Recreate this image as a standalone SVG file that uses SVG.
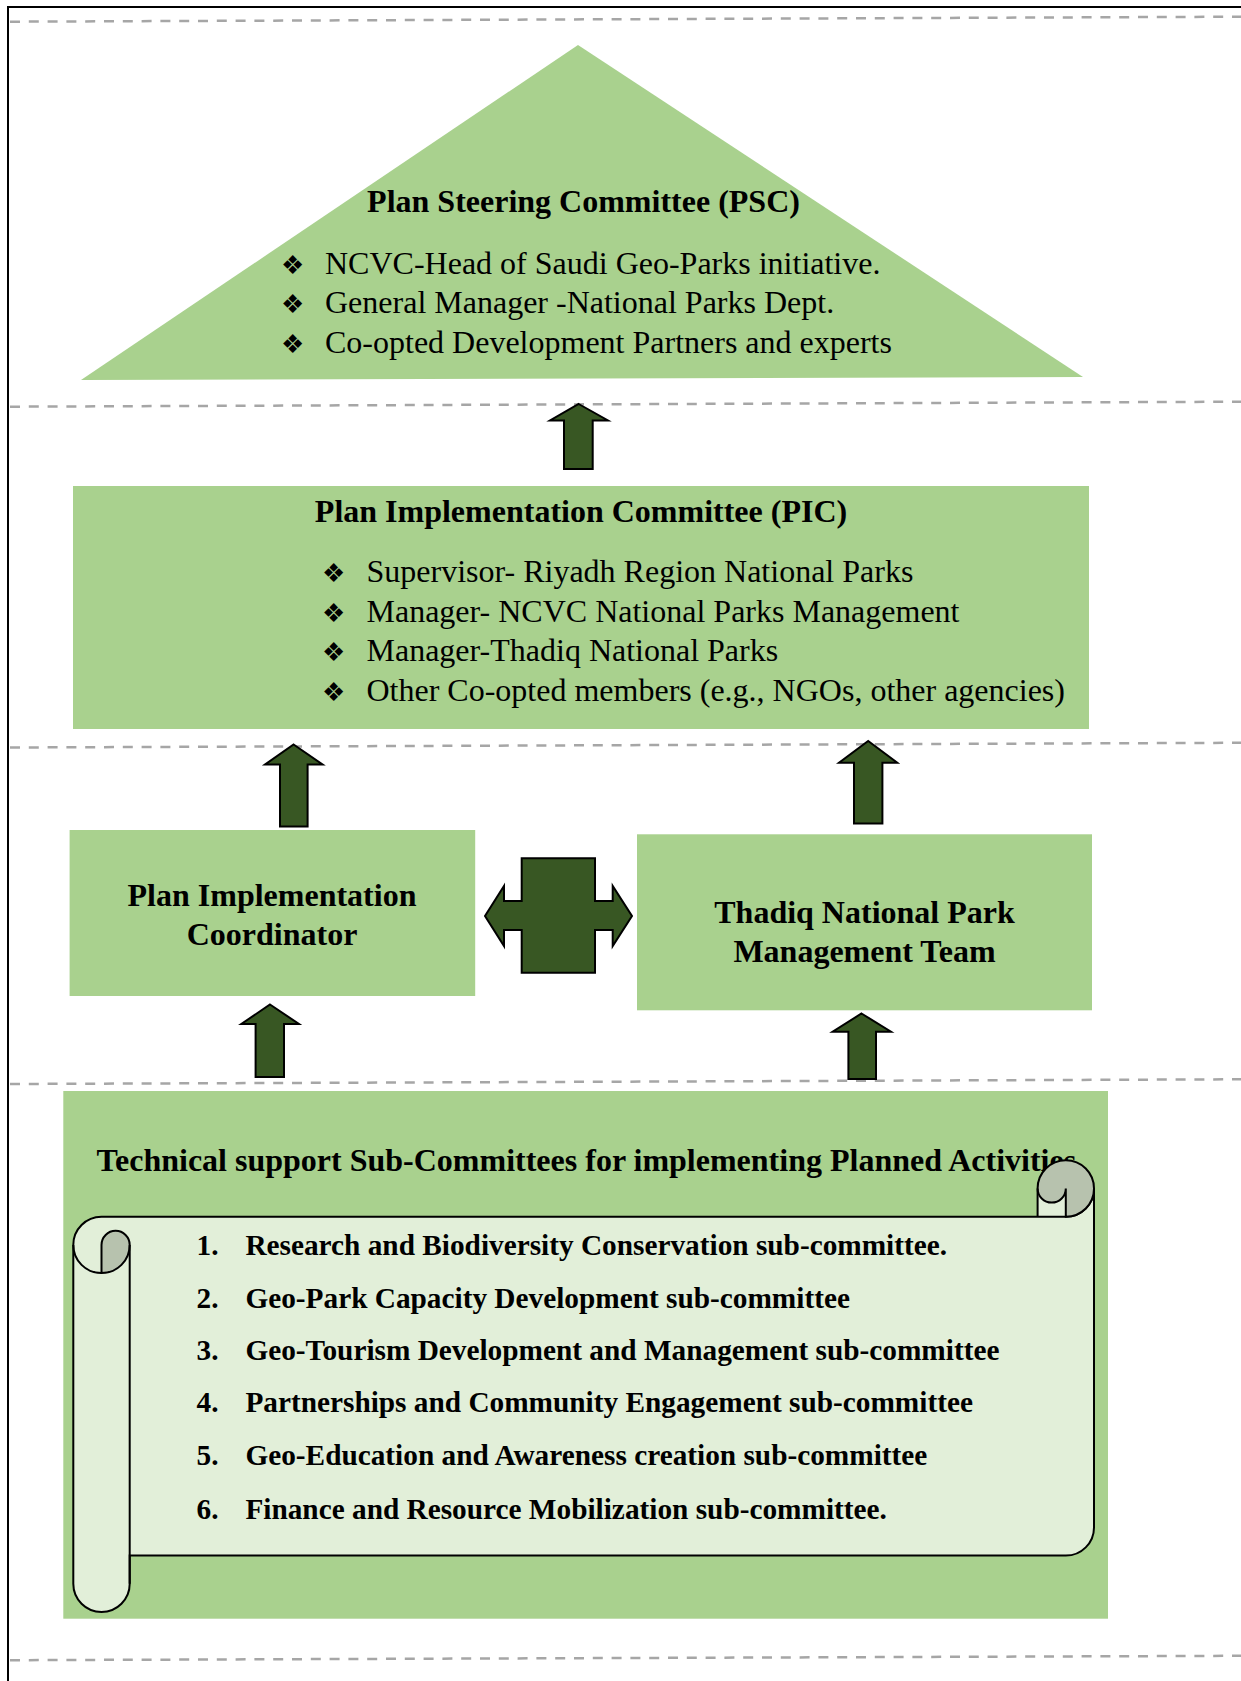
<svg xmlns="http://www.w3.org/2000/svg" width="1241" height="1681" viewBox="0 0 1241 1681">
<style>
.bg{fill:#a9d18e;stroke:none}
.t{font-family:"Liberation Serif","Times New Roman",serif;font-size:32px;fill:#000}
.b{font-weight:bold}
.c{text-anchor:middle}
.li{font-family:"Liberation Serif","Times New Roman",serif;font-size:29.3px;font-weight:bold;fill:#000}
.bu{font-family:"DejaVu Sans",sans-serif;font-size:26px;fill:#000}
.dash{stroke:#a6a6a6;stroke-width:2.5;stroke-dasharray:10 8.8;fill:none}
.arr{fill:#385723;stroke:#000;stroke-width:2;stroke-linejoin:miter}
.sl{fill:#e2efd9;stroke:none}
.sg{fill:#b7c2ae;stroke:#000;stroke-width:2}
.sk{fill:none;stroke:#000;stroke-width:2}
</style>
<rect width="1241" height="1681" fill="#fff"/>
<g id="frame">
<line x1="8" y1="7" x2="1241" y2="7" stroke="#000" stroke-width="2"/>
<line x1="8" y1="6" x2="8" y2="1681" stroke="#000" stroke-width="2"/>
<line class="dash" x1="10" y1="21.7" x2="1241" y2="16.7"/>
<line class="dash" x1="10" y1="406.7" x2="1241" y2="401.7"/>
<line class="dash" x1="10" y1="747.5" x2="1241" y2="742.8"/>
<line class="dash" x1="10" y1="1084" x2="1241" y2="1079.3"/>
<line class="dash" x1="10" y1="1660.2" x2="1241" y2="1655.8"/>
</g>
<g id="psc">
<polygon class="bg" points="578,45 81,380 1083,377"/>
<text class="t b c" x="583.5" y="212">Plan Steering Committee (PSC)</text>
<text class="bu" x="281" y="273.5">❖</text>
<text class="t" x="325" y="273.5">NCVC-Head of Saudi Geo-Parks initiative.</text>
<text class="bu" x="281" y="313">❖</text>
<text class="t" x="325" y="313">General Manager -National Parks Dept.</text>
<text class="bu" x="281" y="352.5">❖</text>
<text class="t" x="325" y="352.5">Co-opted Development Partners and experts</text>
</g>
<g id="pic">
<rect class="bg" x="73" y="486" width="1016" height="243"/>
<text class="t b c" x="581" y="521.5">Plan Implementation Committee (PIC)</text>
<text class="bu" x="322" y="582">❖</text>
<text class="t" x="366.5" y="582">Supervisor- Riyadh Region National Parks</text>
<text class="bu" x="322" y="621.5">❖</text>
<text class="t" x="366.5" y="621.5">Manager- NCVC National Parks Management</text>
<text class="bu" x="322" y="661">❖</text>
<text class="t" x="366.5" y="661">Manager-Thadiq National Parks</text>
<text class="bu" x="322" y="700.5">❖</text>
<text class="t" x="366.5" y="700.5">Other Co-opted members (e.g., NGOs, other agencies)</text>
</g>
<g id="coordinator">
<rect class="bg" x="69.6" y="830" width="405.6" height="166"/>
<text class="t b c" x="272" y="906">Plan Implementation</text>
<text class="t b c" x="272" y="944.5">Coordinator</text>
</g>
<g id="thadiq">
<rect class="bg" x="637" y="834.3" width="455" height="176"/>
<text class="t b c" x="864.5" y="922.5">Thadiq National Park</text>
<text class="t b c" x="864.5" y="962">Management Team</text>
</g>
<g id="subcommittees">
<rect class="bg" x="63.3" y="1091" width="1044.7" height="527.7"/>
<text class="t b" x="96.6" y="1170.5">Technical support Sub-Committees for implementing Planned Activities</text>
<path class="sl" d="M101.5,1216.7 L1065.8,1216.7 A28.2,28.2 0 0 0 1094,1188.5 L1094,1527.4 A28.2,28.2 0 0 1 1065.8,1555.6 L129.7,1555.6 L129.7,1583.8 A28.2,28.2 0 0 1 73.3,1583.8 L73.3,1244.9 A28.2,28.2 0 0 1 101.5,1216.7 Z"/>
<rect class="sl" x="1037.6" y="1188.5" width="28.2" height="28.2"/>
<path class="sk" d="M101.5,1216.7 L1065.8,1216.7 A28.2,28.2 0 0 0 1094,1188.5 L1094,1527.4 A28.2,28.2 0 0 1 1065.8,1555.6 L129.7,1555.6 L129.7,1583.8 A28.2,28.2 0 0 1 73.3,1583.8 L73.3,1244.9 A28.2,28.2 0 0 1 101.5,1216.7 Z"/>
<path class="sg" d="M1037.6,1188.5 A28.2,28.2 0 0 1 1094,1188.5 A28.2,28.2 0 0 1 1065.8,1216.7 L1065.8,1188.5 A14.1,14.1 0 0 1 1037.6,1188.5 Z"/>
<line class="sk" x1="1037.6" y1="1188.5" x2="1037.6" y2="1216.7"/>
<path class="sg" d="M101.5,1244.9 A14.1,14.1 0 0 1 129.7,1244.9 A28.2,28.2 0 0 1 101.5,1273.1 Z"/>
<path class="sk" d="M73.3,1244.9 A28.2,28.2 0 0 0 101.5,1273.1"/>
<line class="sk" x1="129.7" y1="1244.9" x2="129.7" y2="1583.8"/>
<text class="li" x="196.5" y="1255">1.</text>
<text class="li" x="245.4" y="1255">Research and Biodiversity Conservation sub-committee.</text>
<text class="li" x="196.5" y="1307.5">2.</text>
<text class="li" x="245.4" y="1307.5">Geo-Park Capacity Development sub-committee</text>
<text class="li" x="196.5" y="1360">3.</text>
<text class="li" x="245.4" y="1360">Geo-Tourism Development and Management sub-committee</text>
<text class="li" x="196.5" y="1412">4.</text>
<text class="li" x="245.4" y="1412">Partnerships and Community Engagement sub-committee</text>
<text class="li" x="196.5" y="1464.5">5.</text>
<text class="li" x="245.4" y="1464.5">Geo-Education and Awareness creation sub-committee</text>
<text class="li" x="196.5" y="1519">6.</text>
<text class="li" x="245.4" y="1519">Finance and Resource Mobilization sub-committee.</text>
</g>
<g id="connectors">
<polygon class="arr" points="578.7,404 608,420.5 592.7,420.5 592.7,469 564,469 564,420.5 550,420.5"/>
<polygon class="arr" points="293.6,744.5 322.6,764.5 307.6,764.5 307.6,826.5 280,826.5 280,764.5 265,764.5"/>
<polygon class="arr" points="868.2,741 897.3,762.7 882.4,762.7 882.4,823.5 854,823.5 854,762.7 839,762.7"/>
<polygon class="arr" points="270,1004.5 299,1024 284,1024 284,1077 255.6,1077 255.6,1024 241.3,1024"/>
<polygon class="arr" points="861.5,1013.5 891,1031.7 876,1031.7 876,1079 848.4,1079 848.4,1031.7 832.6,1031.7"/>
<polygon class="arr" points="521.7,858.3 595,858.3 595,901 612.7,901 612.7,886 632,916 612.7,946 612.7,930 595,930 595,972.7 521.7,972.7 521.7,930 504,930 504,946 485,916 504,886 504,901 521.7,901"/>
</g>
</svg>
